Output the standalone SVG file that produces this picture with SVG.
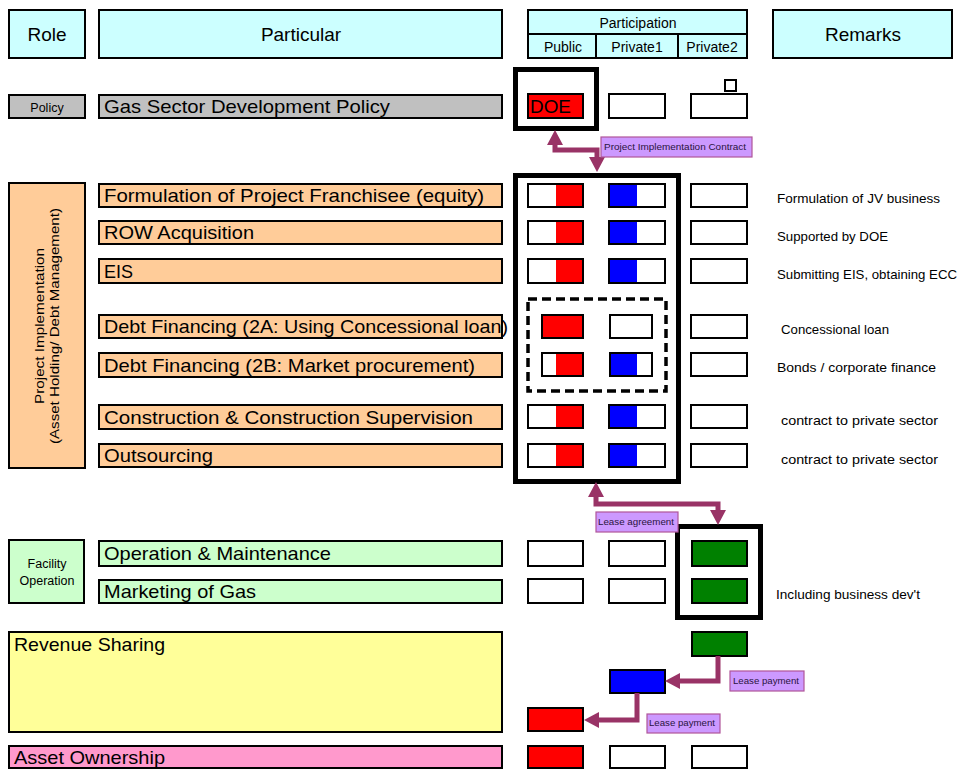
<svg xmlns="http://www.w3.org/2000/svg" width="960" height="769" viewBox="0 0 960 769">
  <style>
    text { font-family: "Liberation Sans", Arial, sans-serif; fill: #000; }
    .box { stroke: #000; stroke-width: 2; }
    .hdr { fill: #CCFFFF; }
    .gray { fill: #C0C0C0; }
    .orange { fill: #FFCC99; }
    .lgreen { fill: #CCFFCC; }
    .yellow { fill: #FFFF99; }
    .pink { fill: #FF99CC; }
    .cell { fill: #FFFFFF; stroke: #000; stroke-width: 2; }
    .outline { fill: none; stroke: #000; stroke-width: 2; }
    .red { fill: #FF0000; }
    .blue { fill: #0000FF; }
    .green { fill: #008000; }
    .thick { fill: none; stroke: #000; stroke-width: 5; }
    .dash { fill: none; stroke: #000; stroke-width: 3.5; stroke-dasharray: 9 5; }
    .t18 { font-size: 19px; }
    .t14 { font-size: 14px; }
    .t13 { font-size: 13px; }
    .t12 { font-size: 12.5px; }
    .rem { font-size: 13px; }
    .mid { text-anchor: middle; }
    .shaft { fill: none; stroke: #993366; stroke-width: 5; stroke-linejoin: miter; }
    .tag { fill: #CC99FF; stroke: #B0559A; stroke-width: 1.2; }
    .tagt { font-size: 9.5px; fill: #2a1440; }
  </style>
  <defs>
    <marker id="head" markerUnits="userSpaceOnUse" markerWidth="16" markerHeight="16" refX="0" refY="8" orient="auto-start-reverse">
      <path d="M0,0 L15,8 L0,16 z" fill="#993366"/>
    </marker>
  </defs>

  <!-- header row -->
  <g id="hdr-role">
    <rect class="box hdr" x="9" y="10" width="76" height="48"/>
    <text class="t18 mid" x="47" y="41">Role</text>
  </g>
  <g id="hdr-particular">
    <rect class="box hdr" x="99" y="10" width="403" height="48"/>
    <text class="t18 mid" x="301" y="41">Particular</text>
  </g>
  <g id="hdr-participation">
    <rect class="box hdr" x="528" y="10" width="219" height="24"/>
    <rect class="box hdr" x="528" y="34" width="68" height="24"/>
    <rect class="box hdr" x="596" y="34" width="82" height="24"/>
    <rect class="box hdr" x="678" y="34" width="69" height="24"/>
    <text class="t14 mid" x="638" y="28">Participation</text>
    <text class="t14 mid" x="563" y="52">Public</text>
    <text class="t14 mid" x="637" y="52">Private1</text>
    <text class="t14 mid" x="712" y="52">Private2</text>
  </g>
  <g id="hdr-remarks">
    <rect class="box hdr" x="773" y="10" width="179" height="48"/>
    <text class="t18 mid" x="863" y="41">Remarks</text>
  </g>

  <!-- policy row -->
  <g id="role-policy">
    <rect class="box gray" x="9" y="95" width="76" height="23"/>
    <text class="t12 mid" x="47" y="112">Policy</text>
  </g>
  <g id="gas-policy">
    <rect class="box gray" x="99" y="95" width="403" height="23"/>
    <text class="t18" x="104" y="113" textLength="286" lengthAdjust="spacingAndGlyphs">Gas Sector Development Policy</text>
  </g>
  <g id="policy-cells">
    <rect class="box red" x="528" y="94" width="55" height="24"/>
    <text class="t18" x="530" y="113" textLength="41" lengthAdjust="spacingAndGlyphs">DOE</text>
    <rect class="cell" x="609" y="94" width="56" height="24"/>
    <rect class="cell" x="691" y="94" width="56" height="24"/>
    <rect class="cell" x="725" y="80" width="11" height="11" stroke-width="1.5"/>
    <rect class="thick" x="515.5" y="69.5" width="81" height="59"/>
  </g>

  <!-- project implementation block -->
  <g id="role-implementation">
    <rect class="box orange" x="9" y="183" width="76" height="285"/>
    <g transform="translate(44,326) rotate(-90)">
      <text class="t13 mid" x="0" y="0" textLength="156" lengthAdjust="spacingAndGlyphs">Project Implementation</text>
      <text class="t13 mid" x="0" y="15" textLength="236" lengthAdjust="spacingAndGlyphs">(Asset Holding/ Debt Management)</text>
    </g>
  </g>

  <g id="row-franchisee">
    <rect class="box orange" x="99" y="184" width="403" height="23"/>
    <text class="t18" x="104" y="202" textLength="380" lengthAdjust="spacingAndGlyphs">Formulation of Project Franchisee (equity)</text>
    <rect class="cell" x="528" y="184" width="55" height="23"/><rect class="red" x="556" y="184" width="27" height="23"/><rect class="outline" x="528" y="184" width="55" height="23"/>
    <rect class="cell" x="609" y="184" width="56" height="23"/><rect class="blue" x="609" y="184" width="28" height="23"/><rect class="outline" x="609" y="184" width="56" height="23"/>
    <rect class="cell" x="691" y="184" width="56" height="23"/>
    <text class="rem" x="777" y="203" textLength="163" lengthAdjust="spacingAndGlyphs">Formulation of JV business</text>
  </g>

  <g id="row-row">
    <rect class="box orange" x="99" y="221" width="403" height="23"/>
    <text class="t18" x="104" y="239" textLength="150" lengthAdjust="spacingAndGlyphs">ROW Acquisition</text>
    <rect class="cell" x="528" y="221" width="55" height="23"/><rect class="red" x="556" y="221" width="27" height="23"/><rect class="outline" x="528" y="221" width="55" height="23"/>
    <rect class="cell" x="609" y="221" width="56" height="23"/><rect class="blue" x="609" y="221" width="28" height="23"/><rect class="outline" x="609" y="221" width="56" height="23"/>
    <rect class="cell" x="691" y="221" width="56" height="23"/>
    <text class="rem" x="777" y="241" textLength="111" lengthAdjust="spacingAndGlyphs">Supported by DOE</text>
  </g>

  <g id="row-eis">
    <rect class="box orange" x="99" y="259" width="403" height="24"/>
    <text class="t18" x="104" y="278" textLength="29" lengthAdjust="spacingAndGlyphs">EIS</text>
    <rect class="cell" x="528" y="259" width="55" height="24"/><rect class="red" x="556" y="259" width="27" height="24"/><rect class="outline" x="528" y="259" width="55" height="24"/>
    <rect class="cell" x="609" y="259" width="56" height="24"/><rect class="blue" x="609" y="259" width="28" height="24"/><rect class="outline" x="609" y="259" width="56" height="24"/>
    <rect class="cell" x="691" y="259" width="56" height="24"/>
    <text class="rem" x="777" y="279" textLength="180" lengthAdjust="spacingAndGlyphs">Submitting EIS, obtaining ECC</text>
  </g>

  <g id="row-debt-2a">
    <rect class="box orange" x="99" y="315" width="403" height="23"/>
    <text class="t18" x="104" y="333" textLength="404" lengthAdjust="spacingAndGlyphs">Debt Financing (2A: Using Concessional loan)</text>
    <rect class="box red" x="542" y="315" width="41" height="23"/>
    <rect class="cell" x="610" y="315" width="42" height="23"/>
    <rect class="cell" x="691" y="315" width="56" height="23"/>
    <text class="rem" x="781" y="334" textLength="108" lengthAdjust="spacingAndGlyphs">Concessional loan</text>
  </g>

  <g id="row-debt-2b">
    <rect class="box orange" x="99" y="353" width="403" height="24"/>
    <text class="t18" x="104" y="372" textLength="371" lengthAdjust="spacingAndGlyphs">Debt Financing (2B: Market procurement)</text>
    <rect class="cell" x="542" y="353" width="41" height="23"/><rect class="red" x="556" y="353" width="27" height="23"/><rect class="outline" x="542" y="353" width="41" height="23"/>
    <rect class="cell" x="610" y="353" width="42" height="23"/><rect class="blue" x="610" y="353" width="27" height="23"/><rect class="outline" x="610" y="353" width="42" height="23"/>
    <rect class="cell" x="691" y="353" width="56" height="23"/>
    <text class="rem" x="777" y="372" textLength="159" lengthAdjust="spacingAndGlyphs">Bonds / corporate finance</text>
  </g>

  <g id="row-construction">
    <rect class="box orange" x="99" y="405" width="403" height="24"/>
    <text class="t18" x="104" y="424" textLength="369" lengthAdjust="spacingAndGlyphs">Construction &amp; Construction Supervision</text>
    <rect class="cell" x="528" y="405" width="55" height="23"/><rect class="red" x="556" y="405" width="27" height="23"/><rect class="outline" x="528" y="405" width="55" height="23"/>
    <rect class="cell" x="609" y="405" width="56" height="23"/><rect class="blue" x="609" y="405" width="28" height="23"/><rect class="outline" x="609" y="405" width="56" height="23"/>
    <rect class="cell" x="691" y="405" width="56" height="23"/>
    <text class="rem" x="781" y="425" textLength="157" lengthAdjust="spacingAndGlyphs">contract to private sector</text>
  </g>

  <g id="row-outsourcing">
    <rect class="box orange" x="99" y="444" width="403" height="23"/>
    <text class="t18" x="104" y="462" textLength="109" lengthAdjust="spacingAndGlyphs">Outsourcing</text>
    <rect class="cell" x="528" y="444" width="55" height="23"/><rect class="red" x="556" y="444" width="27" height="23"/><rect class="outline" x="528" y="444" width="55" height="23"/>
    <rect class="cell" x="609" y="444" width="56" height="23"/><rect class="blue" x="609" y="444" width="28" height="23"/><rect class="outline" x="609" y="444" width="56" height="23"/>
    <rect class="cell" x="691" y="444" width="56" height="23"/>
    <text class="rem" x="781" y="464" textLength="157" lengthAdjust="spacingAndGlyphs">contract to private sector</text>
  </g>

  <g id="frames-implementation">
    <rect class="thick" x="515.5" y="175.5" width="163" height="306"/>
    <rect class="dash" x="528" y="299" width="138" height="92"/>
  </g>

  <!-- facility operation block -->
  <g id="role-facility">
    <rect class="box lgreen" x="9" y="540" width="75" height="63"/>
    <text class="t12 mid" x="47" y="568">Facility</text>
    <text class="t12 mid" x="47" y="585">Operation</text>
  </g>
  <g id="row-om">
    <rect class="box lgreen" x="99" y="541" width="403" height="25"/>
    <text class="t18" x="104" y="560" textLength="227" lengthAdjust="spacingAndGlyphs">Operation &amp; Maintenance</text>
    <rect class="cell" x="528" y="541" width="55" height="25"/>
    <rect class="cell" x="609" y="541" width="56" height="25"/>
    <rect class="box green" x="692" y="541" width="55" height="25"/>
  </g>
  <g id="row-marketing">
    <rect class="box lgreen" x="99" y="580" width="403" height="23"/>
    <text class="t18" x="104" y="598" textLength="152" lengthAdjust="spacingAndGlyphs">Marketing of Gas</text>
    <rect class="cell" x="528" y="579" width="55" height="24"/>
    <rect class="cell" x="609" y="579" width="56" height="24"/>
    <rect class="box green" x="692" y="579" width="55" height="24"/>
    <text class="rem" x="776" y="599" textLength="144" lengthAdjust="spacingAndGlyphs">Including business dev't</text>
  </g>
  <g id="frame-facility">
    <rect class="thick" x="677.5" y="526.5" width="83" height="91"/>
  </g>

  <!-- revenue sharing -->
  <g id="row-revenue">
    <rect class="box yellow" x="9" y="632" width="493" height="100"/>
    <text class="t18" x="14" y="651" textLength="151" lengthAdjust="spacingAndGlyphs">Revenue Sharing</text>
    <rect class="box green" x="692" y="632" width="55" height="24"/>
    <rect class="box blue" x="610" y="670" width="55" height="23"/>
    <rect class="box red" x="528" y="708" width="55" height="23"/>
  </g>

  <!-- asset ownership -->
  <g id="row-asset">
    <rect class="box pink" x="9" y="746" width="493" height="22"/>
    <text class="t18" x="14" y="764" textLength="151" lengthAdjust="spacingAndGlyphs">Asset Ownership</text>
    <rect class="box red" x="528" y="746" width="55" height="22"/>
    <rect class="cell" x="610" y="746" width="55" height="22"/>
    <rect class="cell" x="692" y="746" width="55" height="22"/>
  </g>

  <!-- connectors -->
  <g id="connectors">
    <path class="shaft" d="M555,145 V150 H597 V157" marker-start="url(#head)" marker-end="url(#head)"/>
    <path class="shaft" d="M596,497 V504 H718 V510" marker-start="url(#head)" marker-end="url(#head)"/>
    <path class="shaft" d="M718,656 V681 H680" marker-end="url(#head)"/>
    <path class="shaft" d="M637,693 V720 H599" marker-end="url(#head)"/>
  </g>

  <!-- connector labels -->
  <g id="label-contract">
    <rect class="tag" x="601" y="137" width="151" height="20"/>
    <text class="tagt" x="604" y="150" textLength="142" lengthAdjust="spacingAndGlyphs">Project Implementation Contract</text>
  </g>
  <g id="label-lease-agreement">
    <rect class="tag" x="596" y="512" width="82" height="20"/>
    <text class="tagt" x="598" y="525" textLength="76" lengthAdjust="spacingAndGlyphs">Lease agreement</text>
  </g>
  <g id="label-lease-payment-1">
    <rect class="tag" x="730" y="671" width="74" height="20"/>
    <text class="tagt" x="733" y="684" textLength="66" lengthAdjust="spacingAndGlyphs">Lease payment</text>
  </g>
  <g id="label-lease-payment-2">
    <rect class="tag" x="647" y="714" width="73" height="19"/>
    <text class="tagt" x="649" y="726" textLength="66" lengthAdjust="spacingAndGlyphs">Lease payment</text>
  </g>
</svg>
